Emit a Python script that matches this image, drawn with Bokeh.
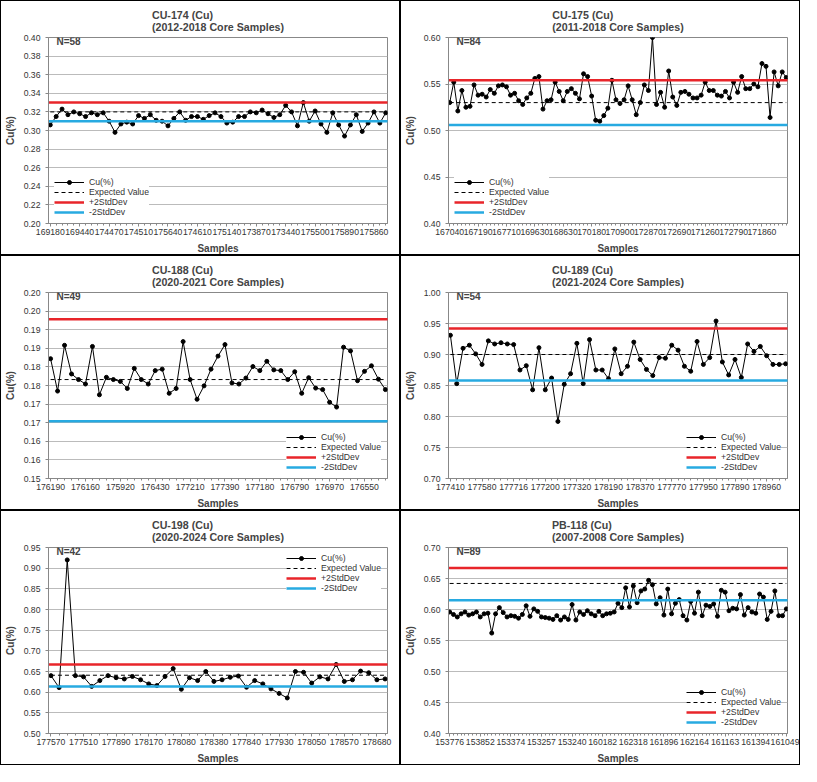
from bokeh.plotting import figure
from bokeh.layouts import gridplot
from bokeh.models import Label, Legend, LegendItem, FixedTicker
from bokeh.embed import file_html
from bokeh.resources import INLINE

# ---------- data ----------
cu174_vals = [0.306,0.315,0.323,0.317,0.320,0.318,0.315,0.319,0.317,0.319,
              0.310,0.298,0.307,0.309,0.307,0.316,0.313,0.317,0.311,0.310,
              0.305,0.313,0.320,0.311,0.315,0.315,0.312,0.316,0.319,0.315,
              0.308,0.309,0.315,0.315,0.320,0.319,0.322,0.318,0.314,0.317,
              0.327,0.320,0.305,0.330,0.310,0.321,0.307,0.298,0.319,0.306,
              0.294,0.306,0.317,0.299,0.308,0.320,0.308,0.319]
cu174_ticks = ["169180","169440","174470","174510","175640","174610","175140","173870","173440","175500","175890","175860"]

cu175_vals = [0.530,0.552,0.521,0.543,0.525,0.526,0.549,0.538,0.539,0.536,
              0.544,0.540,0.548,0.549,0.547,0.538,0.540,0.532,0.528,0.535,
              0.540,0.556,0.558,0.523,0.532,0.533,0.552,0.542,0.532,0.542,
              0.545,0.540,0.534,0.561,0.558,0.537,0.511,0.510,0.516,0.524,
              0.554,0.533,0.529,0.533,0.548,0.533,0.517,0.530,0.549,0.543,
              0.600,0.528,0.541,0.525,0.564,0.536,0.527,0.541,0.542,0.539,
              0.535,0.535,0.538,0.552,0.543,0.543,0.538,0.537,0.542,0.535,
              0.552,0.541,0.558,0.545,0.545,0.550,0.547,0.572,0.569,0.514,
              0.563,0.548,0.563,0.557]
cu175_ticks = ["167040","167190","167710","169630","168630","170180","170900","172870","172690","171260","172790","171860"]

cu188_vals = [0.1822,0.1735,0.1858,0.1781,0.1766,0.1754,0.1855,0.1725,0.1772,0.1766,
              0.1761,0.1742,0.1796,0.1766,0.1754,0.1790,0.1794,0.1729,0.1742,0.1868,
              0.1766,0.1713,0.1749,0.1794,0.1829,0.1860,0.1757,0.1754,0.1770,0.1801,
              0.1790,0.1815,0.1792,0.1790,0.1766,0.1787,0.1729,0.1771,0.1743,0.1739,
              0.1705,0.1692,0.1853,0.1843,0.1763,0.1788,0.1803,0.1767,0.1739]
cu188_ticks = ["176190","176160","175920","176430","177210","177390","177180","176790","176970","176550"]
cu188_ylabels = ["0.15","0.16","0.16","0.17","0.17","0.18","0.18","0.19","0.19","0.20","0.20"]

cu189_vals = [0.931,0.853,0.910,0.915,0.901,0.884,0.922,0.917,0.919,0.917,
              0.916,0.875,0.882,0.843,0.911,0.843,0.862,0.792,0.852,0.869,
              0.918,0.853,0.924,0.875,0.875,0.861,0.909,0.869,0.881,0.920,
              0.892,0.876,0.866,0.895,0.894,0.915,0.907,0.881,0.873,0.921,
              0.884,0.895,0.954,0.888,0.867,0.892,0.863,0.917,0.905,0.913,
              0.898,0.884,0.884,0.885]
cu189_ticks = ["177410","177580","177716","177200","177320","178190","178370","177770","177950","177890","178960"]

cu198_vals = [0.640,0.611,0.920,0.640,0.637,0.614,0.628,0.640,0.635,0.632,
              0.638,0.630,0.620,0.616,0.638,0.657,0.607,0.635,0.628,0.650,
              0.626,0.630,0.636,0.639,0.612,0.628,0.620,0.608,0.597,0.586,
              0.650,0.648,0.622,0.637,0.632,0.667,0.626,0.630,0.651,0.647,
              0.630,0.632]
cu198_ticks = ["177570","177510","177890","178170","178080","178380","177840","177930","178050","178570","178680"]

pb118_vals = [0.596,0.592,0.588,0.593,0.596,0.591,0.593,0.596,0.588,0.593,
              0.594,0.562,0.593,0.603,0.595,0.588,0.590,0.589,0.586,0.592,
              0.606,0.589,0.601,0.597,0.588,0.587,0.586,0.584,0.590,0.583,
              0.588,0.584,0.608,0.583,0.596,0.592,0.598,0.593,0.590,0.597,
              0.590,0.593,0.594,0.596,
              0.610,0.603,0.635,0.604,0.638,0.611,0.630,0.633,0.647,0.640,
              0.609,0.619,0.591,0.633,0.593,0.610,0.616,0.590,0.583,0.613,
              0.594,0.628,0.590,0.607,0.605,0.609,0.589,0.631,0.628,0.598,
              0.602,0.601,0.624,0.591,0.603,0.596,0.594,0.625,0.620,0.584,
              0.597,0.630,0.590,0.590,0.601]
pb118_ticks = ["153776","153852","153374","153257","153240","160182","162318","161896","162164","161163","161394","161049"]

FONT = "Liberation Sans"


def yt(lo, st, k):
    return [round(lo + st * i, 4) for i in range(k)]


def make(title, sub, vals, ticks, step, ylo, yhi, ytick_vals, ytick_labels,
         exp, plus, minus, leg_loc, nlabel):
    n = len(vals)
    p = figure(width=400, height=255, output_backend="svg", toolbar_location=None,
               x_range=(-0.3, n - 0.7), y_range=(ylo, yhi),
               min_border_left=8, min_border_right=14, min_border_top=4, min_border_bottom=4)
    p.title.text = title + "\n" + sub
    p.title.align = "center"
    p.title.text_font = FONT
    p.title.text_font_size = "8pt"
    p.title.text_font_style = "bold"
    xs = list(range(n))
    r_line = p.line(xs, vals, color="black", line_width=1)
    r_pts = p.scatter(xs, vals, size=4, color="black")
    r_exp = p.line([0, n - 1], [exp, exp], color="black", line_dash="4 3", line_width=1)
    r_p = p.line([-1, n], [plus, plus], color="#e8252a", line_width=2.5)
    r_m = p.line([-1, n], [minus, minus], color="#27aae1", line_width=2.5)
    tick_pos = [i * step for i in range(len(ticks))]
    p.xaxis.ticker = FixedTicker(ticks=tick_pos, minor_ticks=xs)
    p.xaxis.major_label_overrides = {t: l for t, l in zip(tick_pos, ticks)}
    p.yaxis.ticker = FixedTicker(ticks=ytick_vals)
    p.yaxis.major_label_overrides = {t: l for t, l in zip(ytick_vals, ytick_labels)}
    for ax in (p.xaxis, p.yaxis):
        ax.major_label_text_font = FONT
        ax.major_label_text_font_size = "6.5pt"
        ax.major_label_text_color = "#333333"
        ax.axis_label_text_font = FONT
        ax.axis_label_text_font_size = "7.5pt"
        ax.axis_label_text_font_style = "bold"
        ax.axis_line_color = "#888888"
        ax.major_tick_line_color = "#888888"
        ax.minor_tick_line_color = "#888888"
        ax.major_tick_out = 3
        ax.major_tick_in = 0
        ax.minor_tick_out = 2
        ax.minor_tick_in = 0
    p.xaxis.axis_label = "Samples"
    p.yaxis.axis_label = "Cu(%)"
    p.xaxis.major_label_standoff = 2
    p.xgrid.grid_line_color = None
    p.ygrid.grid_line_color = "#bbbbbb"
    p.outline_line_color = "#888888"
    p.add_layout(Label(x=8, y=177, x_units="screen", y_units="screen", text=nlabel,
                       text_font=FONT, text_font_size="7.5pt", text_font_style="bold"))
    leg = Legend(items=[LegendItem(label="Cu(%)", renderers=[r_line, r_pts]),
                        LegendItem(label="Expected Value", renderers=[r_exp]),
                        LegendItem(label="+2StdDev", renderers=[r_p]),
                        LegendItem(label="-2StdDev", renderers=[r_m])],
                 location=leg_loc, label_text_font=FONT, label_text_font_size="6.5pt",
                 label_text_color="#333333", border_line_color=None,
                 background_fill_alpha=1.0, glyph_height=10, glyph_width=30,
                 label_height=10, spacing=0, padding=3, margin=6)
    p.add_layout(leg)
    p.styles = {"border": "1px solid black", "box-sizing": "border-box"}
    return p


p1 = make("CU-174 (Cu)", "(2012-2018 Core Samples)", cu174_vals, cu174_ticks, 5, 0.20, 0.40,
          yt(0.20, 0.02, 11), ["%.2f" % v for v in yt(0.20, 0.02, 11)],
          0.320, 0.330, 0.310, "bottom_left", "N=58")
p2 = make("CU-175 (Cu)", "(2011-2018 Core Samples)", cu175_vals, cu175_ticks, 7, 0.40, 0.60,
          yt(0.40, 0.05, 5), ["%.2f" % v for v in yt(0.40, 0.05, 5)],
          0.530, 0.554, 0.506, "bottom_left", "N=84")
p3 = make("CU-188 (Cu)", "(2020-2021 Core Samples)", cu188_vals, cu188_ticks, 5, 0.15, 0.20,
          yt(0.15, 0.005, 11), cu188_ylabels, 0.1766, 0.1928, 0.1654, "bottom_right", "N=49")
p4 = make("CU-189 (Cu)", "(2021-2024 Core Samples)", cu189_vals, cu189_ticks, 5, 0.70, 1.00,
          yt(0.70, 0.05, 7), ["%.2f" % v for v in yt(0.70, 0.05, 7)],
          0.900, 0.942, 0.858, "bottom_right", "N=54")
p5 = make("CU-198 (Cu)", "(2020-2024 Core Samples)", cu198_vals, cu198_ticks, 4, 0.50, 0.95,
          yt(0.50, 0.05, 10), ["%.2f" % v for v in yt(0.50, 0.05, 10)],
          0.641, 0.667, 0.614, "top_right", "N=42")
p6 = make("PB-118 (Cu)", "(2007-2008 Core Samples)", pb118_vals, pb118_ticks, 8, 0.40, 0.70,
          yt(0.40, 0.05, 7), ["%.2f" % v for v in yt(0.40, 0.05, 7)],
          0.642, 0.667, 0.615, "bottom_right", "N=89")

grid = gridplot([[p1, p2], [p3, p4], [p5, p6]], toolbar_location=None)
open("out.html", "w").write(file_html(grid, INLINE))
